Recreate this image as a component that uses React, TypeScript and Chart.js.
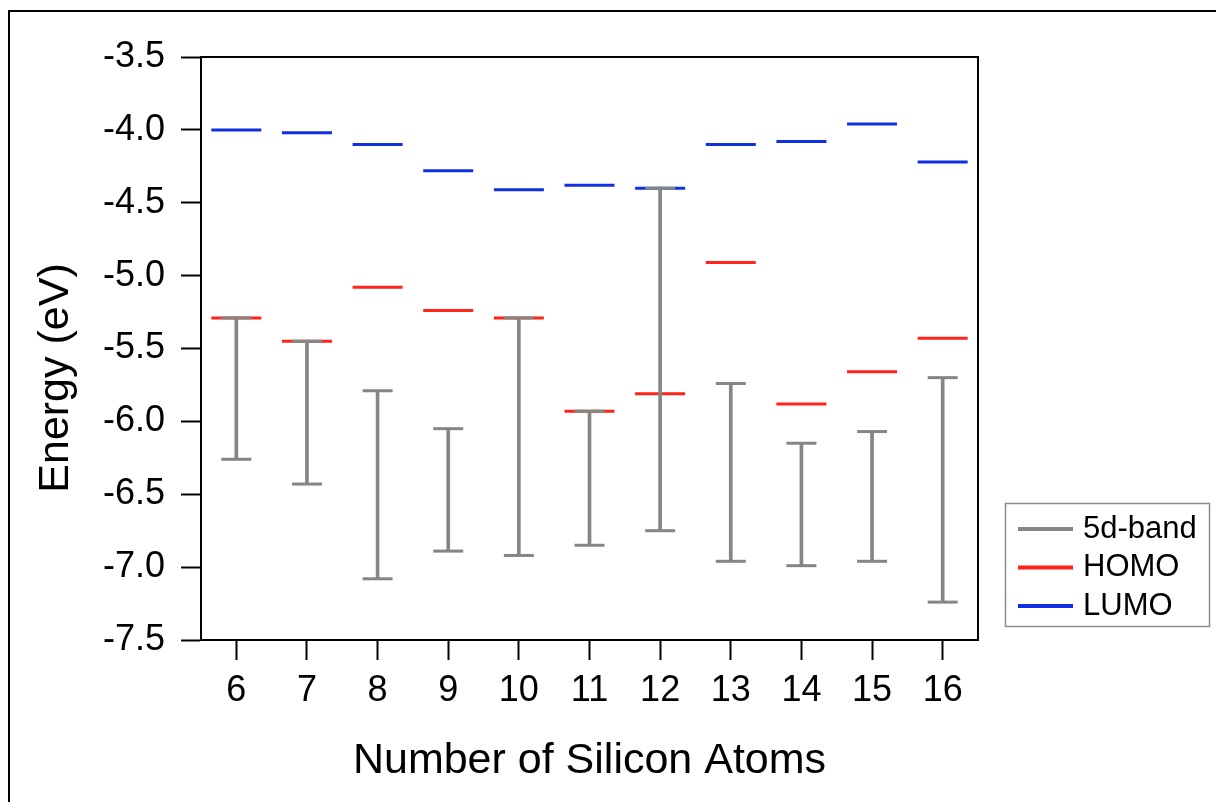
import React, { useEffect, useRef } from 'react';
import { Chart, registerables } from 'chart.js';

Chart.register(...registerables);

// ---- data ----
const atoms = [6, 7, 8, 9, 10, 11, 12, 13, 14, 15, 16];
const bandTop = [-5.29, -5.45, -5.79, -6.05, -5.29, -5.93, -4.4, -5.74, -6.15, -6.07, -5.7];
const bandBottom = [-6.26, -6.43, -7.08, -6.89, -6.92, -6.85, -6.75, -6.96, -6.99, -6.96, -7.24];
const homo = [-5.29, -5.45, -5.08, -5.24, -5.29, -5.93, -5.81, -4.91, -5.88, -5.66, -5.43];
const lumo = [-4.0, -4.02, -4.1, -4.28, -4.41, -4.38, -4.4, -4.1, -4.08, -3.96, -4.22];
const seriesNames = ['5d-band', 'HOMO', 'LUMO'];
const yMin = -7.5;
const yMax = -3.5;
const xTitle = 'Number of Silicon Atoms';
const yTitle = 'Energy (eV)';

const GREY = '#858585';
const RED = '#ff2318';
const BLUE = '#0f2fe0';
const FONT = '"Liberation Sans", Arial, Helvetica, sans-serif';

const extrasPlugin = {
  id: 'extras',
  afterDatasetsDraw(chart: any) {
    const { ctx, chartArea } = chart;
    ctx.save();
    ctx.strokeStyle = '#000';
    ctx.lineWidth = 2;
    ctx.beginPath();
    ctx.moveTo(chartArea.left, chartArea.top);
    ctx.lineTo(chartArea.right, chartArea.top);
    ctx.lineTo(chartArea.right, chartArea.bottom);
    ctx.stroke();
    ctx.restore();
  },
  afterDraw(chart: any) {
    const { ctx } = chart;
    // y axis title
    ctx.save();
    ctx.translate(56, 378);
    ctx.rotate(-Math.PI / 2);
    ctx.fillStyle = '#000';
    ctx.font = `43px ${FONT}`;
    ctx.textAlign = 'center';
    ctx.textBaseline = 'middle';
    ctx.fillText(yTitle, 0, 0);
    ctx.restore();

    // boxed legend
    const entries = chart.data.datasets.filter((d: any) => d.legendColor);
    ctx.save();
    ctx.strokeStyle = '#8c8c8c';
    ctx.lineWidth = 1.5;
    ctx.strokeRect(1005.5, 503.5, 204, 123);
    entries.forEach((d: any, i: number) => {
      const y = 529 + i * 38.5;
      ctx.strokeStyle = d.legendColor;
      ctx.lineWidth = 4;
      ctx.beginPath();
      ctx.moveTo(1018, y);
      ctx.lineTo(1073, y);
      ctx.stroke();
      ctx.fillStyle = '#000';
      ctx.font = `31px ${FONT}`;
      ctx.textAlign = 'left';
      ctx.textBaseline = 'middle';
      ctx.fillText(d.label, 1083, y);
    });
    ctx.restore();
  },
};

export default function App() {
  const canvasRef = useRef<HTMLCanvasElement | null>(null);

  useEffect(() => {
    if (!canvasRef.current) return;
    const isMinor = (v: number) => Math.abs(Math.round(v * 4)) % 2 === 1;
    const chart = new Chart(canvasRef.current, {
      type: 'scatter',
      data: {
        datasets: [
          {
            type: 'bar',
            label: seriesNames[0],
            legendColor: GREY,
            data: atoms.map((x, i) => ({ x, y: [bandBottom[i], bandTop[i]] })),
            backgroundColor: GREY,
            borderWidth: 0,
            barThickness: 3,
            grouped: false,
          } as any,
          {
            type: 'scatter',
            label: 'caps',
            data: [
              ...atoms.map((x, i) => ({ x, y: bandTop[i] })),
              ...atoms.map((x, i) => ({ x, y: bandBottom[i] })),
            ],
            pointStyle: 'line',
            pointRadius: 15,
            pointHoverRadius: 15,
            pointBorderWidth: 3,
            borderColor: GREY,
            backgroundColor: GREY,
            showLine: false,
          } as any,
          {
            type: 'scatter',
            label: seriesNames[1],
            legendColor: RED,
            data: atoms.map((x, i) => ({ x, y: homo[i] })),
            pointStyle: 'line',
            pointRadius: 25,
            pointHoverRadius: 25,
            pointBorderWidth: 3,
            borderColor: RED,
            backgroundColor: RED,
            showLine: false,
          } as any,
          {
            type: 'scatter',
            label: seriesNames[2],
            legendColor: BLUE,
            data: atoms.map((x, i) => ({ x, y: lumo[i] })),
            pointStyle: 'line',
            pointRadius: 25,
            pointHoverRadius: 25,
            pointBorderWidth: 3,
            borderColor: BLUE,
            backgroundColor: BLUE,
            showLine: false,
          } as any,
        ],
      },
      options: {
        animation: false,
        responsive: false,
        events: [],
        layout: { padding: { left: 0, top: 57, right: 238, bottom: 0 } },
        plugins: { legend: { display: false }, tooltip: { enabled: false } },
        scales: {
          x: {
            type: 'linear',
            offset: false,
            min: atoms[0] - 0.5,
            max: atoms[atoms.length - 1] + 0.5,
            afterBuildTicks: (s: any) => {
              s.ticks = atoms.map((v) => ({ value: v }));
            },
            afterFit: (s: any) => {
              s.height = 162;
            },
            ticks: {
              color: '#000',
              padding: 9,
              font: { family: FONT, size: 36 },
              callback: (v: any) => String(v),
            },
            grid: {
              offset: false,
              drawOnChartArea: false,
              tickLength: 20,
              tickWidth: 2,
              tickColor: '#000',
            },
            border: { display: true, color: '#000', width: 2 },
            title: {
              display: true,
              text: xTitle,
              color: '#000',
              font: { family: FONT, size: 43 },
              padding: { top: 0, bottom: 15 },
            },
          },
          y: {
            type: 'linear',
            min: yMin,
            max: yMax,
            afterFit: (s: any) => {
              s.width = 201;
            },
            ticks: {
              stepSize: 0.25,
              color: '#000',
              padding: 16,
              font: { family: FONT, size: 36 },
              callback: (v: any) => (isMinor(Number(v)) ? '' : Number(v).toFixed(1)),
            },
            grid: {
              drawOnChartArea: false,
              tickLength: 20,
              tickWidth: 2,
              tickColor: '#000',
              tickBorderDash: (c: any) => (c.tick && isMinor(c.tick.value) ? [10, 10] : []),
              tickBorderDashOffset: (c: any) => (c.tick && isMinor(c.tick.value) ? 10 : 0),
            } as any,
            border: { display: true, color: '#000', width: 2 },
          },
        },
      } as any,
      plugins: [extrasPlugin],
    });
    return () => chart.destroy();
  }, []);

  return (
    <div
      style={{
        position: 'fixed',
        left: 0,
        top: 0,
        width: 1216,
        height: 802,
        overflow: 'hidden',
        background: '#fff',
      }}
    >
      <div
        style={{
          position: 'absolute',
          left: 8,
          top: 10,
          width: 1400,
          height: 1000,
          border: '2px solid #000',
        }}
      />
      <canvas
        ref={canvasRef}
        width={1216}
        height={802}
        style={{ position: 'absolute', left: 0, top: 0 }}
      />
    </div>
  );
}
